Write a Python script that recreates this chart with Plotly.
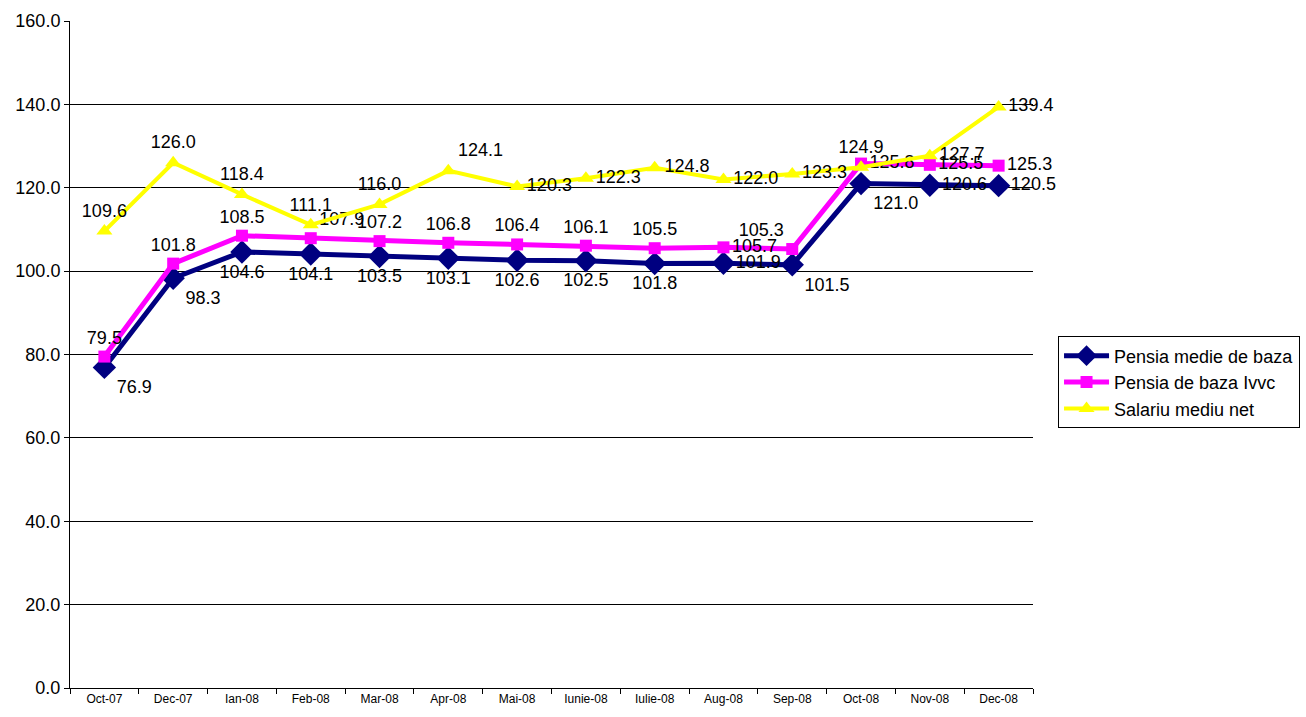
import plotly.graph_objects as go

categories = ["Oct-07", "Dec-07", "Ian-08", "Feb-08", "Mar-08", "Apr-08", "Mai-08",
              "Iunie-08", "Iulie-08", "Aug-08", "Sep-08", "Oct-08", "Nov-08", "Dec-08"]
pensia_medie = [76.9, 98.3, 104.6, 104.1, 103.5, 103.1, 102.6, 102.5, 101.8, 101.9, 101.5, 121.0, 120.6, 120.5]
pensia_ivvc = [79.5, 101.8, 108.5, 107.9, 107.2, 106.8, 106.4, 106.1, 105.5, 105.7, 105.3, 125.8, 125.5, 125.3]
salariu = [109.6, 126.0, 118.4, 111.1, 116.0, 124.1, 120.3, 122.3, 124.8, 122.0, 123.3, 124.9, 127.7, 139.4]
y_ticks = [0, 20, 40, 60, 80, 100, 120, 140, 160]

pos_navy = ["bottom right", "bottom right", "bottom center", "bottom center", "bottom center",
            "bottom center", "bottom center", "bottom center", "bottom center", "middle right",
            "bottom right", "bottom right", "middle right", "middle right"]
pos_pink = ["top center", "top center", "top center", "top right", "top center", "top center",
            "top center", "top center", "top center", "middle right", "top left", "middle right",
            "middle right", "middle right"]
pos_yellow = ["top center", "top center", "top center", "top center", "top center", "top right",
              "middle right", "middle right", "middle right", "middle right", "middle right",
              "top center", "middle right", "middle right"]

FONT = "Liberation Sans, Arial, sans-serif"
LBL = 18

fig = go.Figure()
fig.add_trace(go.Scatter(
    x=categories, y=pensia_medie, name="Pensia medie de baza",
    mode="lines+markers+text", text=[f"{v:.1f}" for v in pensia_medie],
    textposition=pos_navy, textfont=dict(size=LBL, color="black", family=FONT),
    line=dict(color="#000080", width=5),
    marker=dict(symbol="diamond", size=18, color="#000080"), cliponaxis=False))
fig.add_trace(go.Scatter(
    x=categories, y=pensia_ivvc, name="Pensia de baza Ivvc",
    mode="lines+markers+text", text=[f"{v:.1f}" for v in pensia_ivvc],
    textposition=pos_pink, textfont=dict(size=LBL, color="black", family=FONT),
    line=dict(color="#FF00FF", width=5),
    marker=dict(symbol="square", size=12, color="#FF00FF"), cliponaxis=False))
fig.add_trace(go.Scatter(
    x=categories, y=salariu, name="Salariu mediu net",
    mode="lines+markers+text", text=[f"{v:.1f}" for v in salariu],
    textposition=pos_yellow, textfont=dict(size=LBL, color="black", family=FONT),
    line=dict(color="#FFFF00", width=4),
    marker=dict(symbol="triangle-up", size=14, color="#FFFF00"), cliponaxis=False))

fig.update_layout(
    width=1306, height=717,
    margin=dict(l=70, r=273, t=21, b=29, autoexpand=False),
    plot_bgcolor="white", paper_bgcolor="white",
    font=dict(family=FONT, color="black"),
    showlegend=True,
    legend=dict(x=1.026, y=0.527, xanchor="left", yanchor="top",
                bordercolor="black", borderwidth=1, bgcolor="white",
                font=dict(size=18, family=FONT), itemwidth=45,
                tracegroupgap=2),
    xaxis=dict(type="category", tickson="boundaries", ticks="outside", ticklen=5,
               tickcolor="black", showline=True, linecolor="black", linewidth=1,
               showgrid=False, tickfont=dict(size=12, family=FONT),
               range=[-0.5, len(categories) - 0.5], fixedrange=True),
    yaxis=dict(range=[0, 160], tickvals=y_ticks, ticktext=[f"{v:.1f}" for v in y_ticks],
               ticks="outside", ticklen=5, tickcolor="black",
               showline=True, linecolor="black", linewidth=1,
               showgrid=True, gridcolor="#000000", gridwidth=1,
               tickfont=dict(size=18, family=FONT), zeroline=False),
)

fig.write_html("out.html")
